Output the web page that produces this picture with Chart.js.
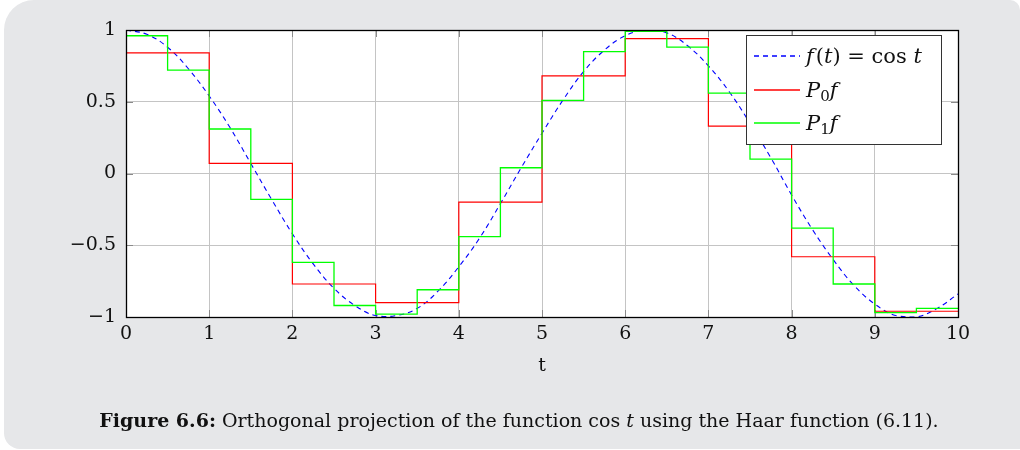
<!DOCTYPE html>
<html>
<head>
<meta charset="utf-8">
<title>Haar projection of cos t</title>
<script src="https://cdn.jsdelivr.net/npm/chart.js@4.4.1/dist/chart.umd.min.js"></script>
<style>
  body { margin: 0; background: #fff; }
  #panel { position: absolute; left: 4px; top: 0; width: 1016px; height: 449px; background: #e6e7e9; border-radius: 30px 10px 0 16px; }
  #plot { position: absolute; left: 0; top: 0; }
  #caption { position: absolute; left: 0; width: 1038px; top: 409px; text-align: center;
             font-family: "DejaVu Serif"; font-size: 19px; color: #111; white-space: nowrap; }
</style>
</head>
<body>
<div id="panel"></div>
<canvas id="plot" width="1020" height="450"></canvas>
<div id="caption"><b>Figure 6.6:</b> Orthogonal projection of the function cos <i>t</i> using the Haar function (6.11).</div>

<script>
// f(t) = cos t, sampled every 0.25 on [0, 10]
const tStep = 0.25;
const cosValues = [
  1.00, 0.97, 0.88, 0.73, 0.54, 0.32, 0.07, -0.18, -0.42, -0.63,
  -0.80, -0.92, -0.99, -0.99, -0.94, -0.82, -0.65, -0.45, -0.21, 0.04,
  0.28, 0.51, 0.71, 0.86, 0.96, 1.00, 0.98, 0.89, 0.75, 0.57,
  0.35, 0.11, -0.15, -0.39, -0.60, -0.78, -0.91, -0.99, -1.00, -0.94,
  -0.84
];
// P0 f: one value per unit interval
const p0Width = 1;
const p0Values = [0.84, 0.07, -0.77, -0.90, -0.20, 0.68, 0.94, 0.33, -0.58, -0.96];
// P1 f: one value per half interval
const p1Width = 0.5;
const p1Values = [
  0.96, 0.72, 0.31, -0.18, -0.62, -0.92, -0.98, -0.81, -0.44, 0.04,
  0.51, 0.85, 0.99, 0.88, 0.56, 0.10, -0.38, -0.77, -0.97, -0.94
];
const xTicks = [0, 1, 2, 3, 4, 5, 6, 7, 8, 9, 10];
const yTicks = [-1, -0.5, 0, 0.5, 1];
const yTickLabels = ['\u22121', '\u22120.5', '0', '0.5', '1'];

const serif = 'DejaVu Serif';

function curvePoints(vals, step) {
  return vals.map((v, i) => ({ x: i * step, y: v }));
}
function stepPoints(vals, w) {
  const pts = vals.map((v, i) => ({ x: i * w, y: v }));
  pts.push({ x: vals.length * w, y: vals[vals.length - 1] });
  return pts;
}

// white plot area, inner tick marks, black frame
const frame = {
  id: 'frame',
  beforeDraw(chart) {
    const a = chart.chartArea, c = chart.ctx;
    c.save();
    c.fillStyle = '#fff';
    c.fillRect(a.left, a.top, a.right - a.left, a.bottom - a.top);
    c.restore();
  },
  beforeDatasetsDraw(chart) {
    const a = chart.chartArea, c = chart.ctx;
    const xs = chart.scales.x, ys = chart.scales.y;
    c.save();
    c.strokeStyle = '#8a8a8a';
    c.lineWidth = 1;
    c.beginPath();
    xTicks.forEach(t => {
      const px = Math.round(xs.getPixelForValue(t)) + 0.5;
      c.moveTo(px, a.bottom); c.lineTo(px, a.bottom - 7);
      c.moveTo(px, a.top); c.lineTo(px, a.top + 7);
    });
    yTicks.forEach(t => {
      const py = Math.round(ys.getPixelForValue(t)) + 0.5;
      c.moveTo(a.left, py); c.lineTo(a.left + 7, py);
      c.moveTo(a.right, py); c.lineTo(a.right - 7, py);
    });
    c.stroke();
    c.restore();
  },
  afterDraw(chart) {
    const a = chart.chartArea, c = chart.ctx;
    c.save();
    c.strokeStyle = '#000';
    c.lineWidth = 1.3;
    c.strokeRect(Math.round(a.left) + 0.5, Math.round(a.top) + 0.5,
                 Math.round(a.right - a.left), Math.round(a.bottom - a.top));
    c.restore();
  }
};

// legend box in the upper right of the plot
function drawRuns(c, x, y, runs) {
  runs.forEach(r => {
    c.font = (r.italic ? 'italic ' : '') + r.size + 'px "' + serif + '"';
    c.fillText(r.text, x, y + (r.dy || 0));
    x += c.measureText(r.text).width + (r.gap || 0);
  });
}
const mathLegend = {
  id: 'mathLegend',
  afterDraw(chart) {
    const c = chart.ctx;
    const box = { x: 746.5, y: 35.5, w: 195, h: 109 };
    const rows = [56, 90, 123];
    const ds = chart.data.datasets;
    c.save();
    c.fillStyle = '#fff';
    c.fillRect(box.x, box.y, box.w, box.h);
    c.strokeStyle = '#333';
    c.lineWidth = 1;
    c.strokeRect(box.x, box.y, box.w, box.h);
    rows.forEach((ry, i) => {
      c.strokeStyle = ds[i].borderColor;
      c.lineWidth = 1.3;
      c.setLineDash(ds[i].borderDash || []);
      c.beginPath();
      c.moveTo(754, ry); c.lineTo(800, ry);
      c.stroke();
    });
    c.setLineDash([]);
    c.fillStyle = '#111';
    c.textBaseline = 'alphabetic';
    const s = 21;
    drawRuns(c, 806, rows[0] + 7, [
      { text: 'f', italic: true, size: s, gap: 2 },
      { text: '(', size: s },
      { text: 't', italic: true, size: s },
      { text: ') = cos ', size: s },
      { text: 't', italic: true, size: s }
    ]);
    drawRuns(c, 806, rows[1] + 7, [
      { text: 'P', italic: true, size: s },
      { text: '0', size: 15, dy: 4 },
      { text: 'f', italic: true, size: s }
    ]);
    drawRuns(c, 806, rows[2] + 7, [
      { text: 'P', italic: true, size: s },
      { text: '1', size: 15, dy: 4 },
      { text: 'f', italic: true, size: s }
    ]);
    c.restore();
  }
};

new Chart(document.getElementById('plot'), {
  type: 'line',
  data: {
    datasets: [
      {
        label: 'f(t) = cos t',
        data: curvePoints(cosValues, tStep),
        borderColor: '#0000ff',
        borderWidth: 1.1,
        borderDash: [5, 4],
        tension: 0.4,
        pointRadius: 0,
        order: 2
      },
      {
        label: 'P0 f',
        data: stepPoints(p0Values, p0Width),
        borderColor: '#ff0000',
        borderWidth: 1.2,
        stepped: 'before',
        pointRadius: 0,
        order: 1
      },
      {
        label: 'P1 f',
        data: stepPoints(p1Values, p1Width),
        borderColor: '#00ff00',
        borderWidth: 1.3,
        stepped: 'before',
        pointRadius: 0,
        order: 0
      }
    ]
  },
  options: {
    responsive: false,
    animation: false,
    layout: { padding: { left: 0, top: 30, right: 62, bottom: 73 } },
    plugins: { legend: { display: false }, tooltip: { enabled: false } },
    scales: {
      x: {
        type: 'linear',
        min: 0, max: 10,
        afterBuildTicks: s => { s.ticks = xTicks.map(v => ({ value: v })); },
        afterFit: s => { s.height = 60; },
        grid: { color: '#c4c4c4', drawTicks: false },
        border: { display: false },
        ticks: { padding: 6, color: '#111', font: { family: serif, size: 19 }, maxRotation: 0 },
        title: { display: true, text: 't', color: '#111', font: { family: serif, size: 19 }, padding: 0 }
      },
      y: {
        type: 'linear',
        min: -1, max: 1,
        afterBuildTicks: s => { s.ticks = yTicks.map(v => ({ value: v })); },
        afterFit: s => { s.width = 126; },
        grid: { color: '#c4c4c4', drawTicks: false },
        border: { display: false },
        ticks: {
          padding: 10, color: '#111', font: { family: serif, size: 19 },
          callback: (v) => yTickLabels[yTicks.indexOf(v)]
        }
      }
    }
  },
  plugins: [frame, mathLegend]
});
</script>
</body>
</html>
